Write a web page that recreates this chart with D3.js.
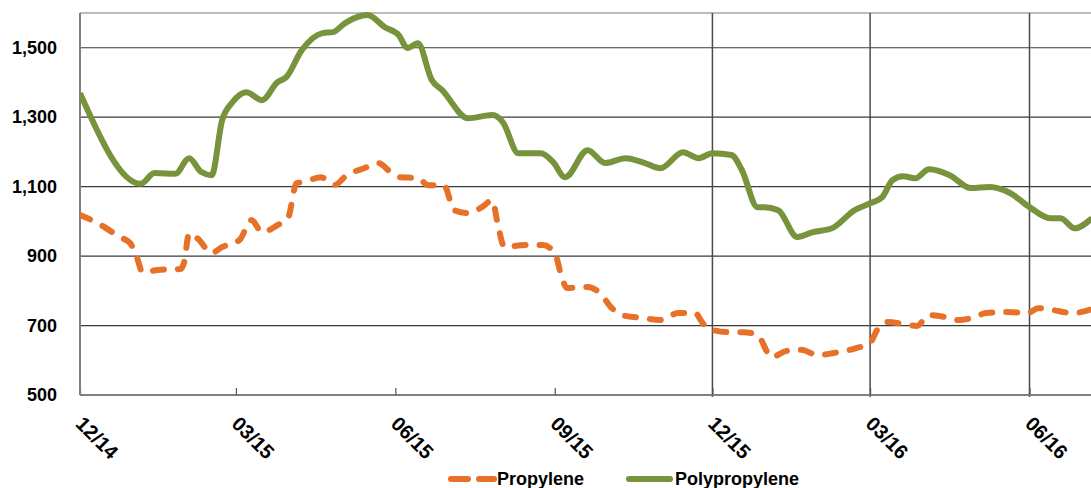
<!DOCTYPE html>
<html>
<head>
<meta charset="utf-8">
<script src="https://cdn.jsdelivr.net/npm/d3@7"></script>
<style>
  body { margin: 0; background: #fff; }
  svg text { font-family: "Liberation Sans", Arial, sans-serif; font-weight: bold; fill: #000; }
</style>
</head>
<body>
<div id="chart"></div>
<script>
var chart_width     =   1091;
var chart_height    =   488;

// Data
var tickDates  = ["2014-12-01", "2015-03-01", "2015-06-01", "2015-09-01", "2015-12-01", "2016-03-01", "2016-06-01"];
var tickLabels = ["12/14", "03/15", "06/15", "09/15", "12/15", "03/16", "06/16"];
var gridDates  = ["2015-12-01", "2016-03-01", "2016-06-01"];
var yTicks     = [500, 700, 900, 1100, 1300, 1500];
var seriesNames = ["Propylene", "Polypropylene"];

var propyleneDates = [
  "2014-12-01", "2014-12-10", "2014-12-24", "2014-12-30", "2015-01-03", "2015-01-06", "2015-01-15", "2015-01-28",
  "2015-01-30", "2015-02-02", "2015-02-07", "2015-02-15", "2015-02-21", "2015-03-03", "2015-03-10", "2015-03-16",
  "2015-03-25", "2015-03-31", "2015-04-05", "2015-04-09", "2015-04-19", "2015-04-27", "2015-05-04", "2015-05-14",
  "2015-05-22", "2015-05-30", "2015-06-04", "2015-06-14", "2015-06-20", "2015-06-29", "2015-07-05", "2015-07-13",
  "2015-07-21", "2015-07-27", "2015-07-30", "2015-08-03", "2015-08-15", "2015-08-25", "2015-09-01", "2015-09-05",
  "2015-09-08", "2015-09-20", "2015-09-27", "2015-10-04", "2015-10-10", "2015-10-21", "2015-11-02", "2015-11-11",
  "2015-11-21", "2015-11-25", "2015-11-28", "2015-12-10", "2015-12-19", "2015-12-27", "2016-01-02", "2016-01-04",
  "2016-01-13", "2016-01-21", "2016-01-31", "2016-02-09", "2016-02-22", "2016-03-01", "2016-03-05", "2016-03-11",
  "2016-03-21", "2016-03-28", "2016-04-04", "2016-04-14", "2016-04-21", "2016-04-29", "2016-05-07", "2016-05-19",
  "2016-05-31", "2016-06-06", "2016-06-14", "2016-06-26", "2016-07-07"];
var propyleneValues = [
  1018, 998, 955, 937, 894, 854, 860, 863,
  880, 966, 950, 909, 926, 946, 1004, 969,
  989, 1009, 1110, 1113, 1127, 1105, 1133, 1153,
  1168, 1139, 1127, 1125, 1104, 1104, 1032, 1024,
  1041, 1061, 995, 926, 932, 932, 909, 840,
  808, 811, 794, 750, 730, 722, 716, 736,
  736, 710, 693, 681, 681, 673, 621, 609,
  627, 630, 615, 621, 635, 650, 687, 710,
  704, 699, 730, 724, 716, 722, 736, 739,
  736, 750, 745, 736, 747];

var polyDates = [
  "2014-12-01", "2015-01-05", "2015-01-13", "2015-01-25", "2015-02-02", "2015-02-09", "2015-02-15", "2015-02-21",
  "2015-02-27", "2015-03-07", "2015-03-16", "2015-03-25", "2015-03-30", "2015-04-08", "2015-04-20", "2015-04-26",
  "2015-05-03", "2015-05-16", "2015-05-26", "2015-06-03", "2015-06-08", "2015-06-14", "2015-06-22", "2015-06-28",
  "2015-07-13", "2015-07-27", "2015-08-02", "2015-08-11", "2015-08-24", "2015-08-31", "2015-09-07", "2015-09-20",
  "2015-09-30", "2015-10-12", "2015-10-23", "2015-11-01", "2015-11-14", "2015-11-23", "2015-12-01", "2015-12-12",
  "2015-12-18", "2015-12-27", "2015-12-31", "2016-01-08", "2016-01-19", "2016-01-28", "2016-02-08", "2016-02-21",
  "2016-03-01", "2016-03-08", "2016-03-14", "2016-03-20", "2016-03-27", "2016-04-04", "2016-04-16", "2016-04-28",
  "2016-05-09", "2016-05-21", "2016-06-01", "2016-06-13", "2016-06-19", "2016-06-27", "2016-07-07"];
var polyValues = [
  1369, 1108, 1139, 1137, 1182, 1142, 1133, 1291,
  1343, 1372, 1349, 1401, 1415, 1493, 1542, 1545,
  1571, 1594, 1559, 1536, 1499, 1513, 1407, 1378,
  1297, 1306, 1286, 1196, 1196, 1171, 1127, 1205,
  1168, 1182, 1168, 1153, 1199, 1182, 1196, 1191,
  1148, 1041, 1041, 1032, 955, 969, 980, 1032,
  1052, 1070, 1119, 1130, 1124, 1150, 1133, 1096,
  1099, 1081, 1041, 1009, 1009, 980, 1009];

var parseDate = d3.timeParse("%Y-%m-%d");

var propylene = propyleneDates.map(function(d, i){ return {date: parseDate(d), value: propyleneValues[i]}; });
var poly = polyDates.map(function(d, i){ return {date: parseDate(d), value: polyValues[i]}; });

var x = d3.scaleTime()
    .domain([parseDate("2014-12-01"), parseDate("2016-06-01")])
    .range([80, 1029.5]);

var y = d3.scaleLinear()
    .domain([500, 1600])
    .range([395, 13]);

var line = d3.line()
    .x(function(d){ return x(d.date); })
    .y(function(d){ return y(d.value); })
    .curve(d3.curveMonotoneX);

// Create SVG
var svg = d3.select("#chart")
    .append("svg")
    .attr("width", chart_width)
    .attr("height", chart_height);

svg.append("defs").append("clipPath")
    .attr("id", "plot-clip")
  .append("rect")
    .attr("x", 80)
    .attr("y", 8)
    .attr("width", chart_width - 80)
    .attr("height", 392);

// top border
svg.append("line")
    .attr("x1", 80).attr("x2", chart_width)
    .attr("y1", y(1600)).attr("y2", y(1600))
    .style("stroke", "#a6a6a6")
    .style("stroke-width", 1.5);

// horizontal grid
svg.append("g")
    .selectAll("line")
    .data(yTicks.slice(1))
    .enter()
    .append("line")
    .attr("x1", 80).attr("x2", chart_width)
    .attr("y1", function(d){ return y(d); })
    .attr("y2", function(d){ return y(d); })
    .style("stroke", "#3a3a3a")
    .style("stroke-width", 1.2);

// vertical grid (only last three quarters)
svg.append("g")
    .selectAll("line")
    .data(gridDates)
    .enter()
    .append("line")
    .attr("x1", function(d){ return x(parseDate(d)); })
    .attr("x2", function(d){ return x(parseDate(d)); })
    .attr("y1", y(1600)).attr("y2", y(500) + 2)
    .style("stroke", "#4a4a4a")
    .style("stroke-width", 1.5);

// x axis
var xAxis = svg.append("g")
    .attr("class", "axis")
    .attr("transform", "translate(0," + y(500) + ")")
    .call(d3.axisBottom(x)
      .tickValues(tickDates.map(parseDate))
      .tickSizeInner(-7)
      .tickSizeOuter(0)
      .tickFormat(function(d, i){ return tickLabels[i]; }));

xAxis.select(".domain")
    .attr("d", "M80,0H" + chart_width)
    .style("stroke", "#808080")
    .style("stroke-width", 2);

xAxis.selectAll(".tick line")
    .style("stroke", "#555")
    .style("stroke-width", 1.2);

xAxis.selectAll(".tick text")
    .attr("x", 0).attr("y", 0).attr("dy", 0)
    .attr("text-anchor", "start")
    .attr("transform", "translate(-6,30) rotate(45)")
    .style("font-size", "20px")
    .style("font-family", "'Liberation Sans', Arial, sans-serif")
    .style("font-weight", "bold");

// y axis
var yAxis = svg.append("g")
    .attr("class", "axis")
    .attr("transform", "translate(80,0)")
    .call(d3.axisLeft(y)
      .tickValues(yTicks)
      .tickSize(0)
      .tickPadding(23)
      .tickFormat(d3.format(",")));

yAxis.select(".domain")
    .attr("d", "M0," + y(1600) + "V" + y(500))
    .style("stroke", "#808080")
    .style("stroke-width", 2);

yAxis.selectAll(".tick text")
    .style("font-size", "18px")
    .style("font-family", "'Liberation Sans', Arial, sans-serif")
    .style("font-weight", "bold");

// lines
var lines = svg.append("g").attr("clip-path", "url(#plot-clip)");

lines.append("path")
    .datum(poly)
    .attr("d", line)
    .style("fill", "none")
    .style("stroke", "#77933c")
    .style("stroke-width", 6)
    .style("stroke-linejoin", "round");

lines.append("path")
    .datum(propylene)
    .attr("d", line)
    .style("fill", "none")
    .style("stroke", "#e8712a")
    .style("stroke-width", 6)
    .style("stroke-linecap", "round")
    .style("stroke-dasharray", "11,14");

// legend
var legend = svg.append("g");

legend.append("line")
    .attr("x1", 451).attr("x2", 494)
    .attr("y1", 479).attr("y2", 479)
    .style("stroke", "#e8712a")
    .style("stroke-width", 6)
    .style("stroke-linecap", "round")
    .style("stroke-dasharray", "17,11");

legend.append("text")
    .attr("x", 497).attr("y", 485)
    .style("font-size", "18px")
    .text(seriesNames[0]);

legend.append("line")
    .attr("x1", 629).attr("x2", 670)
    .attr("y1", 479).attr("y2", 479)
    .style("stroke", "#77933c")
    .style("stroke-width", 6)
    .style("stroke-linecap", "round");

legend.append("text")
    .attr("x", 675).attr("y", 485)
    .style("font-size", "18px")
    .text(seriesNames[1]);
</script>
</body>
</html>
